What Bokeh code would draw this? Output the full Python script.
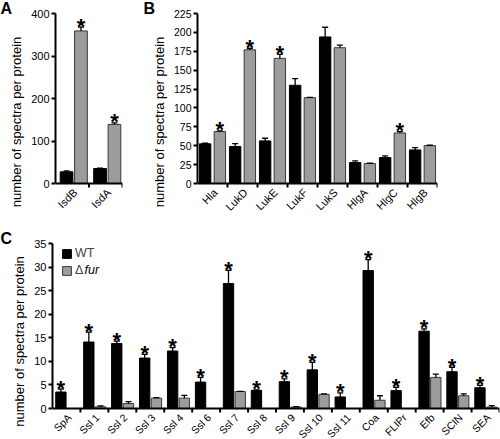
import math
from bokeh.plotting import figure
from bokeh.models import (ColumnDataSource, FixedTicker, Whisker, TeeHead, Label,
                          Legend, LegendItem, Range1d, Title)
from bokeh.layouts import column, row
from bokeh.embed import file_html
from bokeh.resources import INLINE
from bokeh.core.properties import value

# ---------------- data ----------------
a_cats = ["IsdB", "IsdA"]
a_wt = [27.5, 35.2]
a_wt_err = [2.0, 0.8]
a_fur = [359, 139]
a_fur_err = [9, 3.5]
a_star_wt = [0, 0]
a_star_fur = [1, 1]
a_yticks = [0, 100, 200, 300, 400]

b_cats = ["Hla", "LukD", "LukE", "LukF", "LukS", "HlgA", "HlgC", "HlgB"]
b_wt = [52.5, 49, 56.4, 130, 194, 27.7, 34.3, 44.5]
b_wt_err = [0.8, 3.9, 3.5, 8.7, 12.8, 2.2, 2.2, 3.0]
b_fur = [68.7, 177, 165.6, 113.6, 179.7, 26.4, 66.9, 50.2]
b_fur_err = [0.9, 1.8, 5.2, 0.4, 3.5, 0.5, 1.8, 0.4]
b_star_wt = [0, 0, 0, 0, 0, 0, 0, 0]
b_star_fur = [1, 1, 1, 0, 0, 0, 1, 0]
b_yticks = [0, 25, 50, 75, 100, 125, 150, 175, 200, 225]

c_cats = ["SpA", "Ssl 1", "Ssl 2", "Ssl 3", "Ssl 4", "Ssl 6", "Ssl 7", "Ssl 8",
          "Ssl 9", "Ssl 10", "Ssl 11", "Coa", "FLIPr", "Efb", "SCIN", "SEA"]
c_wt = [3.5, 14.1, 13.8, 10.7, 12.2, 5.6, 26.5, 3.85, 5.7, 8.2, 2.45, 29.25, 3.8, 16.4, 7.8, 4.4]
c_wt_err = [0.6, 2.1, 0.5, 0.8, 0.7, 1.0, 2.8, 0.1, 0.6, 1.6, 0.85, 2.35, 0.7, 0.5, 0.95, 0.5]
c_fur = [0, 0.35, 1.05, 2.2, 2.2, 0, 3.6, 0, 0.3, 3.0, 0, 1.75, 0, 6.6, 2.7, 0.3]
c_fur_err = [0, 0.2, 0.4, 0.1, 0.6, 0, 0.05, 0, 0.1, 0.1, 0, 0.95, 0, 0.7, 0.4, 0.3]
c_star_wt = [1] * 16
c_star_fur = [0] * 16
c_yticks = [0, 5, 10, 15, 20, 25, 30, 35]

y_label = "number of spectra per protein"
legend_labels = ["WT", "\u0394", "fur"]
panel_letters = ["A", "B", "C"]

FONT = "Liberation Sans"
BLACK = "#000000"
GREY = "#9c9c9c"
GREY_EDGE = "#3a3a3a"
TOP = 13


def make_panel(cats, wt, wt_err, fur, fur_err, star_wt, star_fur, yticks,
               width, height, bl, br, zb, off_wt, off_fur, bw,
               ytick_fs, xlab_fs, letter, letter_off, mode):
    n = len(cats)
    centers = list(range(n))
    bounds = [i + 0.5 for i in range(n)]
    ymax = yticks[-1]
    fh = height - TOP
    fw = width - bl - br
    ymin = -ymax * zb / (fh - zb)
    ypp = (ymax - ymin) / fh
    xpp = n / fw

    p = figure(width=width, height=height,
               x_range=Range1d(-0.5, n - 0.5), y_range=Range1d(ymin, ymax),
               output_backend="svg", toolbar_location=None,
               min_border_left=bl, min_border_right=br,
               min_border_top=TOP, min_border_bottom=0)
    p.xgrid.visible = False
    p.ygrid.visible = False
    p.outline_line_color = None
    p.xaxis.visible = False

    xw = [c + off_wt for c in centers]
    xf = [c + off_fur for c in centers]
    rw = p.vbar(x=xw, top=wt, bottom=0, width=bw, fill_color=BLACK,
                line_color=BLACK, line_width=1)
    rf = p.vbar(x=xf, top=fur, bottom=0, width=bw, fill_color=GREY,
                line_color=GREY_EDGE, line_width=1)

    for xs, vals, errs in ((xw, wt, wt_err), (xf, fur, fur_err)):
        idx = [i for i in range(n) if errs[i] > 0]
        if idx:
            s = ColumnDataSource(dict(x=[xs[i] for i in idx],
                                      lo=[vals[i] for i in idx],
                                      hi=[vals[i] + errs[i] for i in idx]))
            p.add_layout(Whisker(source=s, base="x", lower="lo", upper="hi",
                                 dimension="height", line_color="black", line_width=1.3,
                                 upper_head=TeeHead(size=6, line_color="black", line_width=1.3),
                                 lower_head=None, level="glyph"))

    sx, sy = [], []
    for xs, vals, errs, flags in ((xw, wt, wt_err, star_wt), (xf, fur, fur_err, star_fur)):
        for i in range(n):
            if flags[i]:
                sx.append(xs[i])
                sy.append(vals[i] + errs[i])
    if sx:
        p.text(x=sx, y=sy, text=["*"] * len(sx), text_font=value(FONT),
               text_font_size="22px", text_font_style="bold", text_align="center",
               text_baseline="alphabetic", y_offset=-1, text_color="black")

    p.segment(x0=[-0.5], y0=[0], x1=[n - 0.5], y1=[0], line_color="black", line_width=2)
    p.segment(x0=bounds, y0=[0] * n, x1=bounds, y1=[-4 * ypp] * n,
              line_color="black", line_width=2)

    lx = [c + 3 * xpp for c in centers]
    ly = [-7 * ypp] * n
    if mode == "label":
        for x, y, t in zip(lx, ly, cats):
            p.add_layout(Label(x=x, y=y, text=t, angle=math.pi / 4,
                               text_font=FONT, text_font_size=xlab_fs, text_color="black",
                               text_align="right", text_baseline="middle"))
    elif mode == "neg":
        p.text(x=lx, y=ly, text=cats, angle=-7 * math.pi / 4,
               text_font=value(FONT), text_font_size=xlab_fs, text_color="black",
               text_align="right", text_baseline="middle")
    else:
        p.text(x=lx, y=ly, text=cats, angle=45, angle_units="deg",
               text_font=value(FONT), text_font_size=xlab_fs, text_color="black",
               text_align="right", text_baseline="middle")

    ya = p.yaxis[0]
    ya.ticker = FixedTicker(ticks=yticks)
    ya.bounds = (0, ymax)
    ya.minor_tick_line_color = None
    ya.major_tick_out = 4
    ya.major_tick_in = 0
    ya.major_tick_line_width = 2
    ya.major_tick_line_color = "black"
    ya.axis_line_width = 2
    ya.axis_line_color = "black"
    ya.major_label_standoff = 2
    ya.major_label_text_font = FONT
    ya.major_label_text_font_size = ytick_fs
    ya.major_label_text_color = "black"
    ya.axis_label = y_label
    ya.axis_label_text_font = FONT
    ya.axis_label_text_font_size = "13px"
    ya.axis_label_text_font_style = "normal"
    ya.axis_label_text_color = "black"
    ya.axis_label_standoff = 4

    p.title = Title(text=letter, align="left", offset=letter_off, standoff=-6,
                    text_font=FONT, text_font_size="16px", text_font_style="bold",
                    text_color="black")
    return p, rw, rf, fh


pA, _, _, _ = make_panel(a_cats, a_wt, a_wt_err, a_fur, a_fur_err, a_star_wt, a_star_fur,
                         a_yticks, 130, 230, 55, 8, 47, -0.17, 0.26, 0.38,
                         "11px", "11px", panel_letters[0], -55, "label")
pB, _, _, _ = make_panel(b_cats, b_wt, b_wt_err, b_fur, b_fur_err, b_star_wt, b_star_fur,
                         b_yticks, 370, 230, 67, 63, 47, -0.245, 0.245, 0.38,
                         "10.5px", "11px", panel_letters[1], -54, "neg")
pC, rwC, rfC, fhC = make_panel(c_cats, c_wt, c_wt_err, c_fur, c_fur_err, c_star_wt, c_star_fur,
                               c_yticks, 500, 209, 52, 1, 31, -0.2, 0.22, 0.37,
                               "11px", "10.5px", panel_letters[2], -52, "deg")

legend = Legend(items=[LegendItem(label=value(legend_labels[0]), renderers=[rwC]),
                       LegendItem(label=value(legend_labels[1]), renderers=[rfC])],
                location=(9, fhC - 35), padding=0, margin=0, spacing=1,
                glyph_width=11, glyph_height=11, label_height=16, label_standoff=3,
                label_text_font=FONT, label_text_font_size="12.5px",
                border_line_color=None, background_fill_alpha=0)
pC.add_layout(legend)
pC.add_layout(Label(x=-0.5, y=c_yticks[-1], x_offset=32, y_offset=-26,
                    text=legend_labels[2], text_font=FONT, text_font_size="12.5px",
                    text_font_style="italic", text_baseline="middle", text_align="left",
                    text_color="black"))

layout = column(row(pA, pB), pC)
open("out.html", "w").write(file_html(layout, INLINE))
